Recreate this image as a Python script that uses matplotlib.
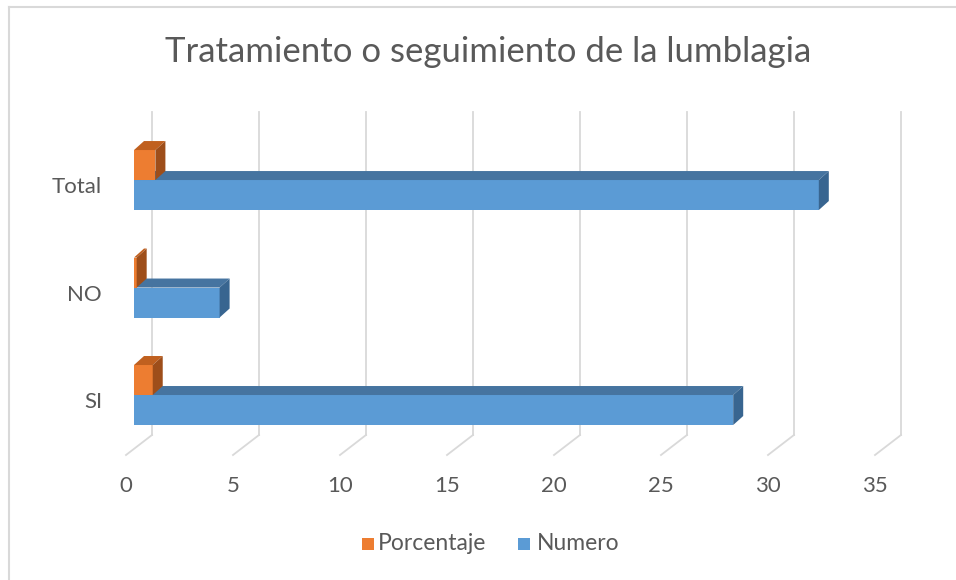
import matplotlib
matplotlib.use("Agg")
import matplotlib.pyplot as plt
from matplotlib.patches import Polygon, Rectangle
import matplotlib.transforms as mtransforms

categories = ["SI", "NO", "Total"]
numero = [28, 4, 32]
porcentaje = [0.875, 0.125, 1.0]
xticks = [0, 5, 10, 15, 20, 25, 30, 35]
title = "Tratamiento o seguimiento de la lumblagia"
series_names = ["Porcentaje", "Numero"]

FONT = ["Lato", "DejaVu Sans"]
TXT = "#595959"
GRID = "#D9D9D9"
BLUE = ("#5B9BD5", "#4674A0", "#386590")
ORANGE = ("#ED7D31", "#C0601F", "#9E4E1A")

W, H = 956, 580
fig = plt.figure(figsize=(W / 100, H / 100), dpi=100)

# axes in pixel coordinates
L, R, T, B = 134, 883, 112, 435
ax = fig.add_axes([L / W, 1 - B / H, (R - L) / W, (B - T) / H])
ax.set_xlim(0, 35)
ax.set_ylim(-0.372, 2.633)
ax.axis("off")

pxx = (R - L) / 35.0
pxy = (B - T) / (2.633 + 0.372)

def px(dx, dy):
    return mtransforms.ScaledTranslation(dx / 100, dy / 100, fig.dpi_scale_trans)

# back-wall gridlines + floor diagonals
blend = mtransforms.blended_transform_factory(ax.transData, ax.transAxes)
for v in xticks:
    ax.plot([v, v], [0, 1], color=GRID, lw=1.3, transform=blend + px(18, 0), clip_on=False, zorder=1)
    x0, y0 = blend.transform((v, 0))
    ax.plot([x0 + 18, x0 - 8], [y0, y0 - 20], color=GRID, lw=1.3, transform=None, clip_on=False, zorder=1)
    ax.text(v, 0, str(v), transform=blend + px(-8, -51), ha="center", va="center",
            fontsize=16, color=TXT, family=FONT)

DX, DY = 10 / pxx, 9 / pxy
BH = 30 / pxy

def box(x, y0, h, colors, z):
    front, top, side = colors
    ax.add_patch(Rectangle((0, y0), x, h, facecolor=front, edgecolor="none", zorder=z))
    ax.add_patch(Polygon([(0, y0 + h), (x, y0 + h), (x + DX, y0 + h + DY), (DX, y0 + h + DY)],
                         closed=True, facecolor=top, edgecolor="none", zorder=z))
    ax.add_patch(Polygon([(x, y0), (x + DX, y0 + DY), (x + DX, y0 + h + DY), (x, y0 + h)],
                         closed=True, facecolor=side, edgecolor="none", zorder=z))

for i, cat in enumerate(categories):
    box(numero[i], i - BH, BH, BLUE, 3 + i * 2)
    box(porcentaje[i], i, BH, ORANGE, 4 + i * 2)
    ax.text(0, i, cat, transform=ax.transData + px(-32, -7), ha="right", va="center",
            fontsize=16, color=TXT, family=FONT)

fig.text(488 / W, 1 - 52 / H, title, ha="center", va="center", fontsize=25, color=TXT, family=FONT)

# legend
ly = 1 - 544 / H
for (x_sq, x_tx, name, col) in [(362, 378, series_names[0], ORANGE[0]), (518, 537, series_names[1], BLUE[0])]:
    fig.patches.append(Rectangle((x_sq / W, ly - 6 / H), 12 / W, 12 / H, facecolor=col,
                                 edgecolor="none", transform=fig.transFigure))
    fig.text(x_tx / W, ly, name, ha="left", va="center", fontsize=16.5, color=TXT, family=FONT)

# chart border (top and left visible)
fig.lines.append(plt.Line2D([9 / W, 9 / W], [1 - 7 / H, 0], color=GRID, lw=1.5, transform=fig.transFigure))
fig.lines.append(plt.Line2D([9 / W, 1], [1 - 7 / H, 1 - 7 / H], color=GRID, lw=1.5, transform=fig.transFigure))

fig.savefig("out.png", dpi=100)
